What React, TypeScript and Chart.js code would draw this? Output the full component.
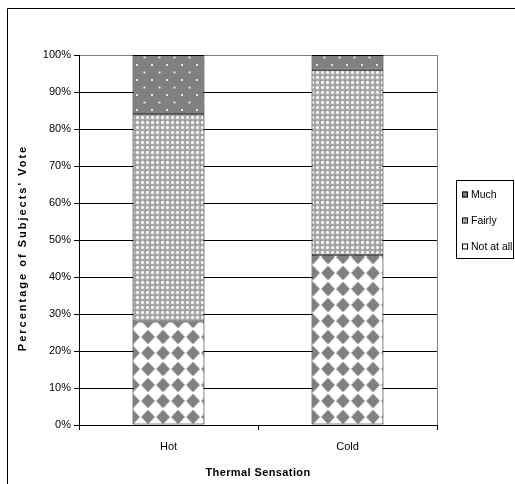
import { useEffect, useRef } from "react";
import { Chart, registerables } from "chart.js";

Chart.register(...registerables);

// Survey results: share of votes per thermal sensation
const categories = ["Hot", "Cold"];
const notAtAllValues = [28, 46];
const fairlyValues = [56, 50];
const muchValues = [16, 4];
const yTickValues = [0, 10, 20, 30, 40, 50, 60, 70, 80, 90, 100];
const xTitle = "Thermal Sensation";
const yTitle = "Percentage of Subjects' Vote";
const legendLabels = ["Much", "Fairly", "Not at all"];

const FONT = '"Liberation Sans", Arial, Helvetica, sans-serif';

function makePattern(w: number, h: number, paint: (g: CanvasRenderingContext2D) => void, dx = 0, dy = 0) {
  const c = document.createElement("canvas");
  c.width = w;
  c.height = h;
  const g = c.getContext("2d")!;
  paint(g);
  const p = g.createPattern(c, "repeat")!;
  if (dx || dy) p.setTransform(new DOMMatrix().translate(dx, dy));
  return p;
}

// dark grey with a staggered grid of light dots
function muchPattern() {
  return makePattern(15, 15, (g) => {
    g.fillStyle = "#808080";
    g.fillRect(0, 0, 15, 15);
    g.fillStyle = "#e4e4e4";
    g.fillRect(0, 0, 2, 2);
    g.fillRect(7.5, 7.5, 2, 2);
  }, 1, 4);
}

// fine light-grey lattice
function fairlyPattern() {
  return makePattern(5, 5, (g) => {
    g.fillStyle = "#a9a9a9";
    g.fillRect(0, 0, 5, 5);
    g.fillStyle = "#ffffff";
    g.fillRect(2, 1, 1, 3);
    g.fillRect(1, 2, 3, 1);
    g.fillStyle = "#d4d4d4";
    g.fillRect(1, 1, 1, 1);
    g.fillRect(3, 1, 1, 1);
    g.fillRect(1, 3, 1, 1);
    g.fillRect(3, 3, 1, 1);
    g.fillStyle = "#888888";
    g.fillRect(0, 0, 1, 1);
  });
}

// large grey diamonds on white (rotated checkerboard)
function notAtAllPattern() {
  return makePattern(15, 16, (g) => {
    g.fillStyle = "#ffffff";
    g.fillRect(0, 0, 15, 16);
    g.fillStyle = "#808080";
    const cx = 7.5;
    const cy = 8;
    g.beginPath();
    g.moveTo(cx, cy - 7.2);
    g.lineTo(cx + 6.8, cy);
    g.lineTo(cx, cy + 7.2);
    g.lineTo(cx - 6.8, cy);
    g.closePath();
    g.fill();
  }, 5.5, 9);
}

export default function App() {
  const ref = useRef<HTMLCanvasElement | null>(null);

  useEffect(() => {
    const canvas = ref.current;
    if (!canvas) return;

    const fills = {
      much: muchPattern(),
      fairly: fairlyPattern(),
      notAtAll: notAtAllPattern(),
    };
    const legendFills = [fills.much, fills.fairly, "#ffffff"];

    const decor = {
      id: "decor",
      afterDraw(chart: any) {
        const { ctx, chartArea: a } = chart;
        ctx.save();

        // outer frame
        ctx.strokeStyle = "#000";
        ctx.lineWidth = 1;
        ctx.beginPath();
        ctx.moveTo(7.5, 484);
        ctx.lineTo(7.5, 8.5);
        ctx.lineTo(515, 8.5);
        ctx.stroke();

        // right edge of the plot area
        const rx = Math.round(a.right) + 0.5;
        ctx.strokeStyle = "#808080";
        ctx.beginPath();
        ctx.moveTo(rx, Math.round(a.top));
        ctx.lineTo(rx, Math.round(a.bottom));
        ctx.stroke();

        // axis titles
        ctx.fillStyle = "#000";
        ctx.font = `bold 11px ${FONT}`;
        ctx.textAlign = "center";
        ctx.textBaseline = "alphabetic";
        (ctx as any).letterSpacing = "0.4px";
        ctx.fillText(xTitle, 258, 476);

        ctx.save();
        ctx.translate(26, 248);
        ctx.rotate(-Math.PI / 2);
        (ctx as any).letterSpacing = "2px";
        ctx.fillText(yTitle, 0, 0);
        ctx.restore();
        (ctx as any).letterSpacing = "0px";

        // legend
        ctx.fillStyle = "#fff";
        ctx.fillRect(456, 180, 58, 78);
        ctx.strokeStyle = "#000";
        ctx.strokeRect(456.5, 180.5, 57, 78);
        ctx.font = `10.5px ${FONT}`;
        ctx.textAlign = "left";
        legendLabels.forEach((label, i) => {
          const base = 197.5 + i * 26;
          ctx.fillStyle = legendFills[i] as any;
          ctx.fillRect(462, base - 6, 6, 6);
          ctx.strokeStyle = "#000";
          ctx.strokeRect(462.5, base - 5.5, 5, 5);
          ctx.fillStyle = "#000";
          ctx.fillText(label, 471, base);
        });

        ctx.restore();
      },
    };

    const chart = new Chart(canvas, {
      type: "bar",
      data: {
        labels: categories,
        datasets: [
          {
            label: "Not at all",
            data: notAtAllValues,
            backgroundColor: fills.notAtAll as any,
            borderColor: "#000",
            borderWidth: 1,
            borderSkipped: false,
          },
          {
            label: "Fairly",
            data: fairlyValues,
            backgroundColor: fills.fairly as any,
            borderColor: "#000",
            borderWidth: 1,
            borderSkipped: false,
          },
          {
            label: "Much",
            data: muchValues,
            backgroundColor: fills.much as any,
            borderColor: "#000",
            borderWidth: 1,
            borderSkipped: false,
          },
        ],
      },
      options: {
        responsive: false,
        animation: false,
        events: [],
        layout: { padding: { top: 55, right: 78, left: 0, bottom: 0 } },
        datasets: { bar: { categoryPercentage: 1, barPercentage: 0.402 } },
        plugins: {
          legend: { display: false },
          tooltip: { enabled: false },
          title: { display: false },
        },
        scales: {
          x: {
            stacked: true,
            offset: true,
            grid: {
              offset: true,
              drawOnChartArea: false,
              drawTicks: true,
              tickLength: 5,
              tickColor: "#000",
            },
            border: { color: "#000", width: 1 },
            ticks: {
              font: { family: FONT, size: 11 },
              color: "#000",
              padding: 10,
              maxRotation: 0,
            },
            afterFit(scale: any) {
              scale.height = 59;
            },
          },
          y: {
            stacked: true,
            min: 0,
            max: 100,
            grid: {
              color: (c: any) => (c.tick && c.tick.value === 100 ? "#808080" : "#000"),
              tickColor: "#000",
              tickLength: 5,
              lineWidth: 1,
            },
            border: { color: "#000", width: 1 },
            ticks: {
              font: { family: FONT, size: 11 },
              color: "#000",
              padding: 3,
              callback: (v: any) => `${v}%`,
            },
            afterBuildTicks(scale: any) {
              scale.ticks = yTickValues.map((v) => ({ value: v }));
            },
            afterFit(scale: any) {
              scale.width = 79;
            },
          },
        },
      },
      plugins: [decor],
    });

    return () => chart.destroy();
  }, []);

  return (
    <div style={{ position: "absolute", left: 0, top: 0, width: 515, height: 484, background: "#fff" }}>
      <canvas ref={ref} width={515} height={484} style={{ display: "block", width: 515, height: 484 }} />
    </div>
  );
}
